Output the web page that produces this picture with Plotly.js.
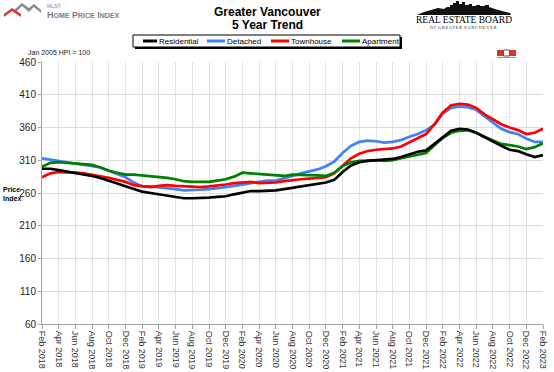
<!DOCTYPE html>
<html>
<head>
<meta charset="utf-8">
<script src="https://cdn.plot.ly/plotly-3.0.1.min.js"></script>
<style>html,body{margin:0;padding:0;background:#fff;}#chart{width:554px;height:372px;}</style>
</head>
<body>
<div id="chart"></div>
<script>
// ---- data ----
var monthNames = ["Jan","Feb","Mar","Apr","May","Jun","Jul","Aug","Sep","Oct","Nov","Dec"];
var startYear = 2018, startMonth = 1; // Feb 2018
var nMonths = 61;
var months = [];
for (var i = 0; i < nMonths; i++) {
  var m = (startMonth + i) % 12, y = startYear + Math.floor((startMonth + i) / 12);
  months.push(monthNames[m] + " " + y);
}
var tickLabels = ["Feb 2018","Apr 2018","Jun 2018","Aug 2018","Oct 2018","Dec 2018",
  "Feb 2019","Apr 2019","Jun 2019","Aug 2019","Oct 2019","Dec 2019",
  "Feb 2020","Apr 2020","Jun 2020","Aug 2020","Oct 2020","Dec 2020",
  "Feb 2021","Apr 2021","Jun 2021","Aug 2021","Oct 2021","Dec 2021",
  "Feb 2022","Apr 2022","Jun 2022","Aug 2022","Oct 2022","Dec 2022","Feb 2023"];

var residential = [297,297,295,293,291,289,286,283,279,274,270,266,262,260,258,256,254,252,252,252,
  253,254,255,258,261,263,263,263,264,266,268,270,272,274,276,280,292,302,307,309,
  310,311,312,315,319,323,325,335,346,355,358,357,352,345,339,332,326,324,319,315,318];
var detached = [313,311,309,308,306,304,302,299,294,289,284,276,270,270,269,268,266,264,264,265,
  266,267,269,271,273,276,278,279,279,282,286,290,293,296,301,308,321,332,338,340,
  339,337,338,341,346,350,356,364,381,390,392,391,387,377,368,358,353,350,343,338,338];
var townhouse = [284,290,292,292,291,290,288,286,283,280,277,272,270,269,271,272,271,270,269,269,
  270,271,273,275,276,277,275,275,276,278,280,281,282,283,284,290,301,313,320,324,
  326,327,328,331,337,343,350,365,383,394,396,395,390,380,373,365,360,356,350,352,358];
var apartment = [300,306,307,306,305,305,303,299,294,291,288,288,287,286,284,283,281,278,277,277,
  277,279,281,285,291,290,289,288,287,286,288,288,287,287,286,291,301,307,309,310,
  310,309,310,313,316,319,321,333,344,352,355,356,352,346,340,335,333,331,327,330,336];

var seriesNames = ["Residential","Detached","Townhouse","Apartment"];
var seriesData = [residential, detached, townhouse, apartment];
var seriesColors = ["#000000","#4080ff","#ff0000","#008000"];
var yTicks = [60,110,160,210,260,310,360,410,460];

// ---- layout helpers (pixel -> paper) ----
var W = 554, Hh = 372, L = 42, R = 11, T = 62, B = 48;
var PW = W - L - R, PH = Hh - T - B;
function px(x){ return (x - L) / PW; }
function py(y){ return (Hh - B - y) / PH; }
function path(pts){
  return pts.map(function(p,i){ return (i? "L":"M") + px(p[0]).toFixed(5) + "," + py(p[1]).toFixed(5); }).join(" ") + " Z";
}
function rect(x0,y0,x1,y1,fill,line,lw){
  return {type:"rect", xref:"paper", yref:"paper", x0:px(x0), x1:px(x1), y0:py(y1), y1:py(y0),
    fillcolor:fill, line:{color:line||fill, width: lw===undefined?0:lw}, layer:"above"};
}
function ann(text,x,y,size,color,opts){
  var a = {text:text, xref:"paper", yref:"paper", x:px(x), y:py(y), showarrow:false,
    font:{family:"Liberation Sans, Arial, sans-serif", size:size, color:color||"#000"},
    xanchor:"left", yanchor:"middle"};
  for (var k in (opts||{})) a[k] = opts[k];
  return a;
}

var traces = seriesData.map(function(d,i){
  return {x: months, y: d, type:"scatter", mode:"lines", name: seriesNames[i],
    line:{color: seriesColors[i], width:2.7}, showlegend:false};
});
// draw order: residential on top
traces = [traces[1], traces[2], traces[3], traces[0]];

var shapes = [];
var annotations = [];

// legend (manual)
shapes.push(rect(135,37,402,49,"#000"));
shapes.push(rect(133,35,400,47,"#fff","#000",1));
var legX = [[143,157],[207,225],[271,289],[342,360]];
seriesNames.forEach(function(n,i){
  shapes.push({type:"line", xref:"paper", yref:"paper", x0:px(legX[i][0]), x1:px(legX[i][1]),
    y0:py(41), y1:py(41), line:{color:seriesColors[i], width:3}, layer:"above"});
  annotations.push(ann(n, legX[i][1]-0.5, 41.5, 8, "#000"));
});

// title
annotations.push(ann("<b>Greater Vancouver</b>", 267, 12, 12, "#000", {xanchor:"center"}));
annotations.push(ann("<b>5 Year Trend</b>", 267, 25.5, 12, "#000", {xanchor:"center"}));

// subtitle texts
annotations.push(ann("Jan 2005 HPI = 100", 26, 52, 7, "#222"));
annotations.push(ann("<b>Price</b>", 1, 189, 7, "#000"));
annotations.push(ann("<b>Index</b>", 1, 198, 7, "#000"));

// MLS HPI logo
shapes.push({type:"path", xref:"paper", yref:"paper", layer:"above", line:{width:0}, fillcolor:"#8a8a8a",
  path: path([[13,11],[22,3],[29,8],[34,4],[41,10],[41,13],[34,7],[29,12],[22,6],[15,13]])});
shapes.push({type:"path", xref:"paper", yref:"paper", layer:"above", line:{width:0}, fillcolor:"#e03030",
  path: path([[4,14],[12,8],[21,14],[21,17],[12,11],[4,17]])});
annotations.push(ann("MLS®", 45, 6.5, 5, "#888"));
annotations.push(ann("<b>H<span style='font-size:7px'>OME</span> P<span style='font-size:7px'>RICE</span> I<span style='font-size:7px'>NDEX</span></b>", 45, 14.5, 9, "#808080"));

// Real Estate Board logo
shapes.push({type:"path", xref:"paper", yref:"paper", layer:"above", line:{width:0}, fillcolor:"#111",
  path: path([[417,15],[424,12],[431,10],[438,8],[444,9],[447,7],[450,7],[450,5],[453,5],[453,3],[456,3],
    [456,1],[459,1],[459,4],[462,4],[462,2],[465,2],[465,5],[469,5],[469,4],[472,4],[472,6],[476,6],
    [476,5],[480,5],[480,6],[485,6],[485,5],[489,5],[489,7],[495,9],[502,11],[510,13],[511,15]])});
annotations.push(ann("REAL ESTATE BOARD", 463.5, 20, 9.5, "#000",
  {xanchor:"center", font:{family:"Liberation Serif, Times New Roman, serif", size:9.5, color:"#000"}}));
annotations.push(ann("O F  G R E A T E R  V A N C O U V E R", 463.5, 27.5, 4, "#000",
  {xanchor:"center", font:{family:"Liberation Serif, serif", size:4, color:"#000"}}));

// small MLS icons
shapes.push(rect(497,50,503,56,"#e03030"));
shapes.push(rect(503.5,50,509.5,56,"#fff","#555",1));
shapes.push(rect(510,50,516,56,"#e03030"));
shapes.push(rect(497,57,516,58,"#999"));

var layout = {
  width: W, height: Hh,
  margin:{l:L, r:R, t:T, b:B, pad:0},
  paper_bgcolor:"#fff", plot_bgcolor:"#fff",
  showlegend:false,
  font:{family:"Liberation Sans, Arial, sans-serif", color:"#222"},
  xaxis:{type:"category", range:[0, nMonths-1], tickmode:"array", tickvals: months.filter(function(_,i){return i%2===0;}),
    ticktext: tickLabels, tickangle:90, tickfont:{size:9, color:"#333"},
    showgrid:true, gridcolor:"#e4e4e4", gridwidth:1, showline:true, linecolor:"#a0a0a0", linewidth:1,
    ticks:"outside", ticklen:4, tickcolor:"#a0a0a0", zeroline:false, fixedrange:true},
  yaxis:{range:[60,460], tickmode:"array", tickvals:yTicks, ticktext: yTicks.map(String),
    tickfont:{size:10, color:"#222"}, showgrid:true, gridcolor:"#dcdcdc", gridwidth:1,
    showline:true, linecolor:"#a0a0a0", linewidth:1, ticks:"outside", ticklen:3, tickcolor:"#a0a0a0",
    zeroline:false, fixedrange:true},
  shapes: shapes,
  annotations: annotations
};

Plotly.newPlot("chart", traces, layout, {displayModeBar:false, staticPlot:true});
</script>
</body>
</html>
